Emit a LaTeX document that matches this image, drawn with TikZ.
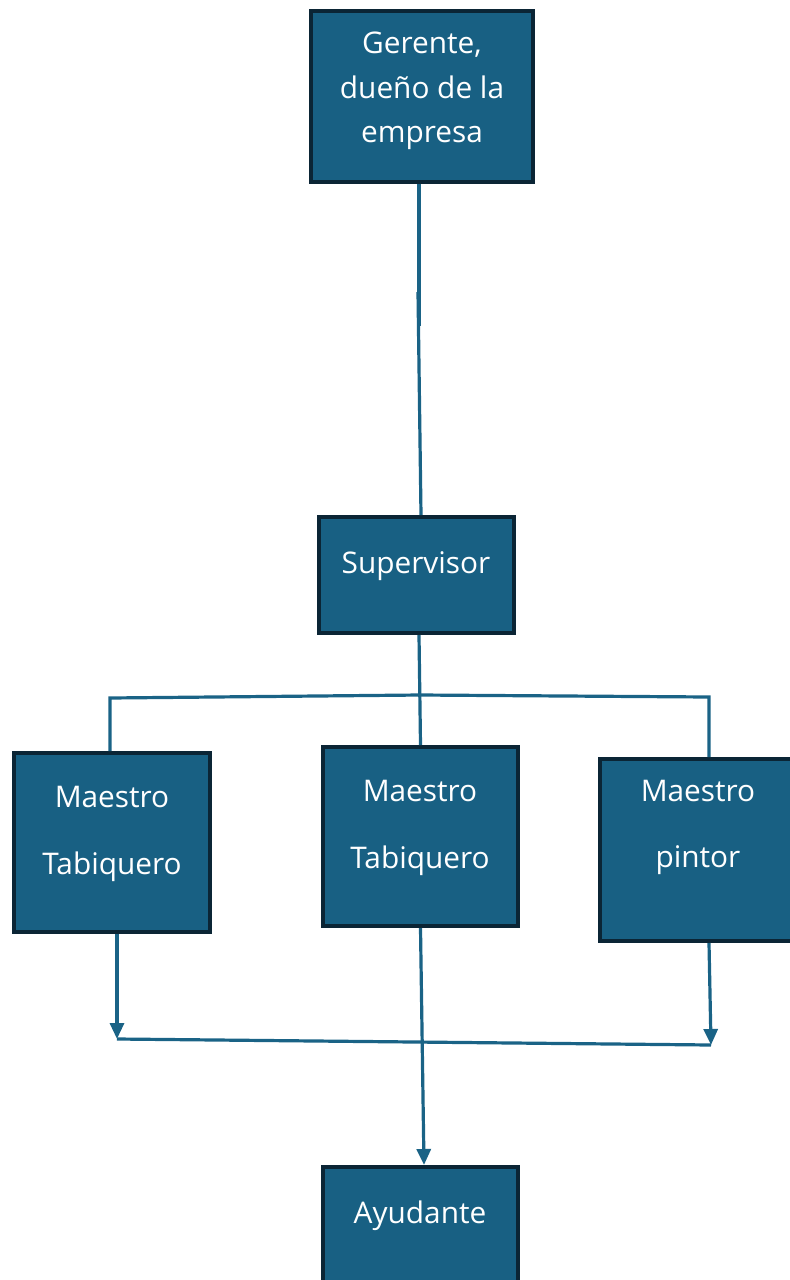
\documentclass[tikz,border=0pt]{standalone}
\usepackage{fontspec}
\setmainfont{Open Sans}
\usetikzlibrary{arrows.meta,positioning}
\definecolor{boxfill}{HTML}{186083}
\definecolor{boxline}{HTML}{0B2535}
\definecolor{wire}{HTML}{1A6386}
\begin{document}
\begin{tikzpicture}[x=0.5pt,y=-0.5pt,
  box/.style={draw=boxline,fill=boxfill,line width=1.8pt,inner sep=0pt},
  sz/.style 2 args={minimum width=0.5pt*#1-1.8pt,minimum height=0.5pt*#2-1.8pt},
  txt/.style={text=white,align=center,inner sep=0pt},
  wirestyle/.style={draw=wire,line width=1.6pt},
  tip/.style={-{Triangle[width=7pt,length=8pt]}}]
\useasboundingbox (0,0) rectangle (789,1280);
\node[box,sz={226}{175}] (ger) at (422,96.5) {};
\node[box,sz={199}{120}] (sup) at (416.5,575) {};
\node[box,sz={200}{183}] (mt1) at (112,842.5) {};
\node[box,sz={199}{183}] (mt2) at (420.5,836.5) {};
\node[box,sz={202}{186}] (mp) at (699,850) {};
\node[box,sz={199}{135}] (ayu) at (420.5,1232.5) {};
\node[txt,font=\fontsize{14.9}{22.2}\selectfont] (tger) at (422,91) {Gerente,\\dueño de la\\empresa};
\node[txt,font=\fontsize{14.9}{17}\selectfont] (tsup) at (416,566) {Supervisor};
\node[txt,font=\fontsize{14.9}{33.5}\selectfont] (tmt1) at (112,834) {Maestro\\Tabiquero};
\node[txt,font=\fontsize{14.9}{33.5}\selectfont] (tmt2) at (420,828) {Maestro\\Tabiquero};
\node[txt,font=\fontsize{14.9}{33}\selectfont] (tmp) at (698,827.5) {Maestro\\pintor};
\node[txt,font=\fontsize{14.9}{17}\selectfont] (tayu) at (420,1216) {Ayudante};
\coordinate (j1) at (419,326);
\coordinate (j2) at (418,292);
\coordinate (bl) at (110,698);
\coordinate (bm) at (420,695);
\coordinate (br) at (709,697);
\coordinate (al) at (117,1039);
\coordinate (ar) at (711,1045);
\draw[wirestyle] (ger.south -| j1) -- (j1);
\draw[wirestyle] (j2) -- ([xshift=2.25pt]sup.north);
\draw[wirestyle] ([xshift=1.25pt]sup.south) -- (mt2.north);
\draw[wirestyle] (bl |- mt1.north) -- (bl) -- (bm) -- (br) -- (br |- mp.north);
\draw[wirestyle,tip] (al |- mt1.south) -- (al);
\draw[wirestyle,tip] (br |- mp.south) -- (ar);
\draw[wirestyle] (al) -- (ar);
\draw[wirestyle,tip] (mt2.south) -- ([xshift=1.75pt]ayu.north);
\end{tikzpicture}
\end{document}
